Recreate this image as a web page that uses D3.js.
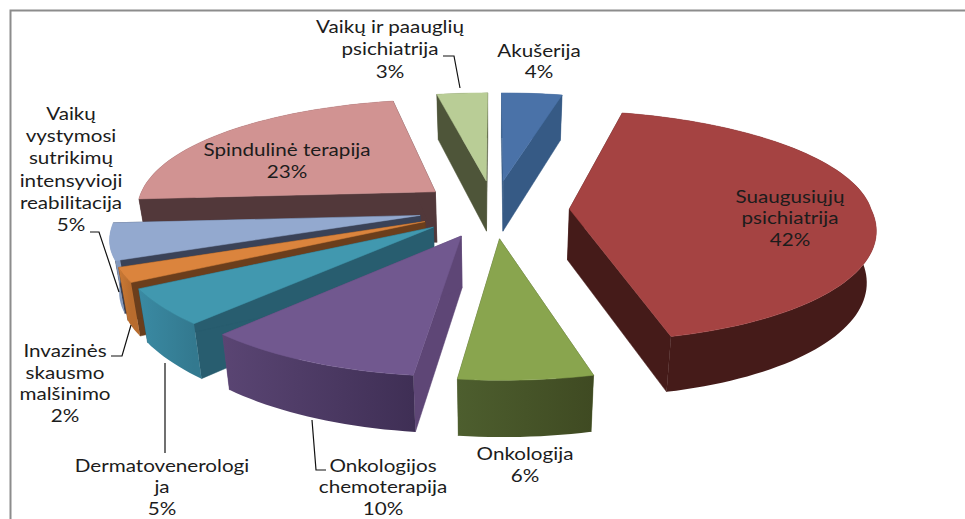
<!DOCTYPE html>
<html><head><meta charset="utf-8">
<script src="https://cdnjs.cloudflare.com/ajax/libs/d3/7.8.5/d3.min.js"></script>
<style>html,body{margin:0;padding:0;background:#fff;overflow:hidden}svg{display:block}</style>
</head><body><svg id="c" width="965" height="519"></svg>
<script>
const categories = ["Akušerija","Suaugusiųjų psichiatrija","Onkologija","Onkologijos chemoterapija","Dermatovenerologija","Invazinės skausmo malšinimo","Vaikų vystymosi sutrikimų intensyvioji reabilitacija","Spindulinė terapija","Vaikų ir paauglių psichiatrija"];
const values = [4,42,6,10,5,2,5,22.6,3.4];
const topColors  = ["#4A72A8","#A54342","#89A54E","#71588F","#4198AF","#DB843D","#93A9CF","#D19392","#B9CD96"];
const sideColors = ["#365A85","#451B19","#4A5A2B","#5E4676","#285D6F","#6B3E1C","#3A4257","#52383A","#4E5539"];
const rimStart   = ["#365A85","#451B19","#4D5E2E","#5A4573","#3A8AA3","#CB7A36","#8398BC","#52383A","#4E5539"];
const rimEnd     = ["#365A85","#451B19","#3F4A22","#3F2F55","#33798F","#B86C2E","#8398BC","#52383A","#4E5539"];
const labelLines = [["Akušerija","4%"],["Suaugusiųjų","psichiatrija","42%"],["Onkologija","6%"],["Onkologijos","chemoterapija","10%"],["Dermatovenerologi","ja","5%"],["Invazinės","skausmo","malšinimo","2%"],["Vaikų","vystymosi","sutrikimų","intensyvioji","reabilitacija","5%"],["Spindulinė terapija","23%"],["Vaikų ir paauglių","psichiatrija","3%"]];

// layout
const W=965,H=519,cx=494,cy=209,R=298,tilt=.39,explode=.25,depth=51,floor=.975;
const labelPos=[{x:539,y:57,dy:21.5},{x:790,y:203,dy:21.5},{x:525,y:460,dy:22},{x:383,y:472,dy:21.5},{x:162,y:472,dy:21.5},{x:65,y:357,dy:21.7},{x:71,y:120,dy:22.2},{x:287,y:156,dy:22},{x:390,y:33,dy:22.5}];
const leaders=[[[443,56],[454,56],[460,88]],[[90,232],[99,232],[119,292]],[[111,356],[122,356],[131,325]],[[165,363],[165,453]],[[312,420],[316,470],[326,470]]];
const drawOrder=[0,8,7,6,5,4,3,2,1];

const svg=d3.select("#c");
const pie=d3.pie().sort(null).value(d=>d)(values);
const defs=svg.append("defs");
const line=d3.line().x(d=>d[0]).y(d=>d[1]);

function project(wx,wy,lower){
  const s = wy>0 ? 1/(1-.143*wy) : 1/(1+.1*(-wy)+.08*wy*wy);
  const side = wx<0 ? 1+.02*Math.exp(-Math.pow((wy-.4)/.4,2)) : 1.012;
  const x=cx+s*R*wx*side+(wy>0?2.5*wy:0);
  const y=cy+s*R*tilt*wy*(wy>0?1-.025*wy:1);
  if(!lower) return [x,y];
  return [cx+(x-cx)*floor, y+depth*Math.pow(s,.55)];
}
function slice3d(p,i){
  const mid=(p.startAngle+p.endAngle)/2;
  const ox=explode*Math.sin(mid), oy=-explode*Math.cos(mid);
  const n=Math.max(4,Math.ceil((p.endAngle-p.startAngle)/0.03));
  const angles=d3.range(n+1).map(k=>p.startAngle+(p.endAngle-p.startAngle)*k/n);
  const rim=low=>angles.map(a=>project(ox+Math.sin(a),oy-Math.cos(a),low));
  return {apexT:project(ox,oy,false),apexB:project(ox,oy,true),rimT:rim(false),rimB:rim(true)};
}
function wall(g,a,b,c,d,fill){
  g.append("path").attr("d",line([a,b,c,d])+"Z").attr("fill",fill).attr("stroke",fill).attr("stroke-width",.5);
}

drawOrder.forEach(i=>{
  const p=pie[i], s=slice3d(p,i), g=svg.append("g");
  const tn=s.rimT.length-1;
  wall(g,s.apexT,s.apexB,s.rimB[0],s.rimT[0],sideColors[i]);
  wall(g,s.apexT,s.apexB,s.rimB[tn],s.rimT[tn],sideColors[i]);
  const grad=defs.append("linearGradient").attr("id","rim"+i).attr("gradientUnits","userSpaceOnUse")
    .attr("x1",s.rimT[0][0]).attr("x2",s.rimT[tn][0]).attr("y1",0).attr("y2",0);
  grad.append("stop").attr("offset",0).attr("stop-color",rimEnd[i]);
  grad.append("stop").attr("offset",1).attr("stop-color",rimStart[i]);
  g.append("path").attr("d",line(s.rimT.concat(s.rimB.slice().reverse()))+"Z").attr("fill","url(#rim"+i+")");
  g.append("path").attr("d",line([s.apexT].concat(s.rimT))+"Z").attr("fill",topColors[i]).attr("stroke",topColors[i]).attr("stroke-width",.5);
});

svg.selectAll("path.leader").data(leaders).join("path").attr("class","leader")
  .attr("d",d=>line(d)).attr("fill","none").attr("stroke","#111").attr("stroke-width",1.2);

labelLines.forEach((ls,i)=>{
  const lp=labelPos[i];
  const t=svg.append("text").attr("text-anchor","middle").attr("font-family","Lato, sans-serif")
    .attr("font-size",17.5).attr("fill","#1c1c1c").attr("transform",`translate(${lp.x},0) scale(1.18,1)`);
  ls.forEach((l,j)=>t.append("tspan").attr("x",0).attr("y",lp.y+j*lp.dy).text(l));
});

// frame
svg.append("path").attr("d",line([[10.5,H],[10.5,10.5],[W,10.5]])).attr("fill","none").attr("stroke","#8c8c8c").attr("stroke-width",2);
</script></body></html>
